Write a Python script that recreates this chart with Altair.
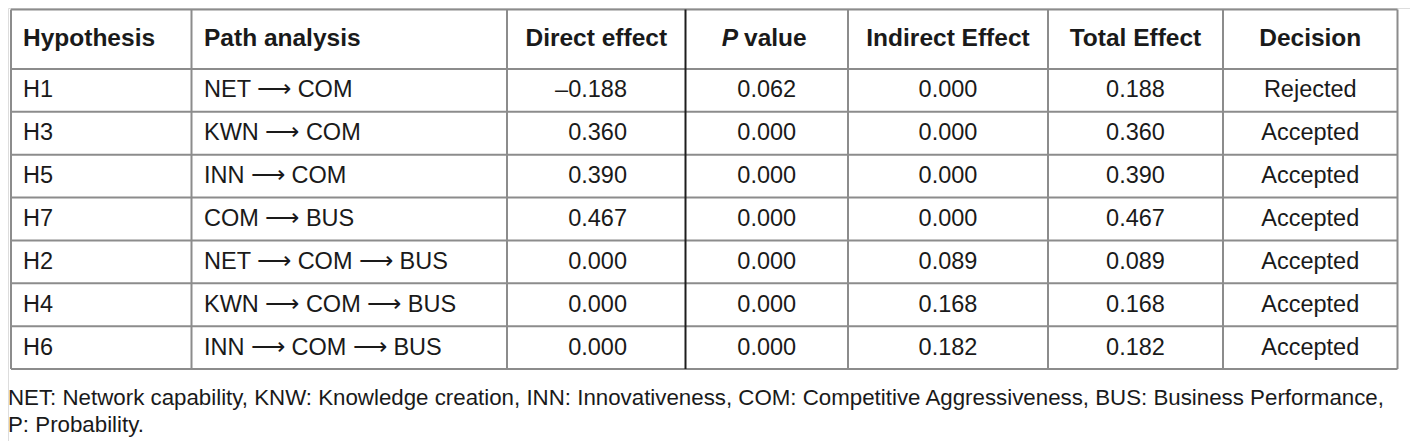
import altair as alt
import pandas as pd

# ---------------- data ----------------
headers = ["Hypothesis", "Path analysis", "Direct effect", "P value",
           "Indirect Effect", "Total Effect", "Decision"]
hypotheses = ["H1", "H3", "H5", "H7", "H2", "H4", "H6"]
paths = ["NET ⟶ COM", "KWN ⟶ COM", "INN ⟶ COM", "COM ⟶ BUS",
         "NET ⟶ COM ⟶ BUS", "KWN ⟶ COM ⟶ BUS", "INN ⟶ COM ⟶ BUS"]
direct_effect = [-0.188, 0.360, 0.390, 0.467, 0.000, 0.000, 0.000]
p_value = [0.062, 0.000, 0.000, 0.000, 0.000, 0.000, 0.000]
indirect_effect = [0.000, 0.000, 0.000, 0.000, 0.089, 0.168, 0.182]
total_effect = [0.188, 0.360, 0.390, 0.467, 0.089, 0.168, 0.182]
decision = ["Rejected", "Accepted", "Accepted", "Accepted",
            "Accepted", "Accepted", "Accepted"]
footnote = [
    "NET: Network capability, KNW: Knowledge creation, INN: Innovativeness, "
    "COM: Competitive Aggressiveness, BUS: Business Performance,",
    "P: Probability.",
]

# ---------------- layout (page coordinates) ----------------
W, H = 1402, 433
X_DOM = [8, 8 + W]
Y_DOM = [8, 8 + H]
col_edges = [11, 191.5, 507, 685.5, 848, 1048, 1223, 1397.5]
top_y = 9.5
head_bottom = 69
row_h = 42.86
n_rows = len(hypotheses)
row_edges = [top_y, head_bottom] + [head_bottom + row_h * (i + 1) for i in range(n_rows)]
FONT = "Liberation Sans"
FS = 23.5
FS_HEAD = 24.5
FS_FOOT = 22.3
TXT = "#1a1a1a"
GRID = "#8c8c8c"
DARK = "#1e1e1e"

x_sc = alt.Scale(domain=X_DOM, range=[0, W], nice=False, zero=False)
y_sc = alt.Scale(domain=Y_DOM, range=[0, H], nice=False, zero=False)
X = lambda f: alt.X(f, type="quantitative", scale=x_sc, axis=None)
Y = lambda f: alt.Y(f, type="quantitative", scale=y_sc, axis=None)


def fmt(v):
    return f"{v:.3f}".replace("-", "–")


centers = [(col_edges[i] + col_edges[i + 1]) / 2 for i in range(7)]
row_mid = [(row_edges[i + 1] + row_edges[i + 2]) / 2 for i in range(n_rows)]
head_mid = (row_edges[0] + row_edges[1]) / 2

left_rows, center_rows, right_rows = [], [], []
for i in range(n_rows):
    y = row_mid[i]
    left_rows.append({"t": hypotheses[i], "x": col_edges[0] + 12, "y": y})
    left_rows.append({"t": paths[i], "x": col_edges[1] + 12.5, "y": y})
    right_rows.append({"t": fmt(direct_effect[i]), "x": 627, "y": y})
    center_rows.append({"t": fmt(p_value[i]), "x": centers[3], "y": y})
    center_rows.append({"t": fmt(indirect_effect[i]), "x": centers[4], "y": y})
    center_rows.append({"t": fmt(total_effect[i]), "x": centers[5], "y": y})
    center_rows.append({"t": decision[i], "x": centers[6], "y": y})

head_left = [{"t": headers[0], "x": col_edges[0] + 12, "y": head_mid},
             {"t": headers[1], "x": col_edges[1] + 12.5, "y": head_mid}]
head_center = [{"t": headers[j], "x": centers[j], "y": head_mid} for j in (2, 4, 5, 6)]
p_parts = headers[3].split(" ", 1)
head_p_italic = [{"t": p_parts[0], "x": 738, "y": head_mid}]
head_p_rest = [{"t": p_parts[1], "x": 744, "y": head_mid}]

hlines = pd.DataFrame({"x": col_edges[0], "x2": col_edges[-1], "y": row_edges})
vgray = [e for k, e in enumerate(col_edges) if k != 3]
vlines = pd.DataFrame({"x": vgray, "y": row_edges[0], "y2": row_edges[-1]})
vdark = pd.DataFrame({"x": [col_edges[3]], "y": [row_edges[0]], "y2": [row_edges[-1]]})

foot = pd.DataFrame({"t": footnote, "x": [8, 8], "y": [405, 432]})


def text_layer(rows, align, size, bold=False, italic=False, baseline="middle"):
    df = pd.DataFrame(rows)
    return alt.Chart(df).mark_text(
        align=align, baseline=baseline, font=FONT, fontSize=size,
        fontWeight="bold" if bold else "normal",
        fontStyle="italic" if italic else "normal", color=TXT,
    ).encode(x=X("x"), y=Y("y"), text="t:N")


h_rule = alt.Chart(hlines).mark_rule(color=GRID, strokeWidth=2).encode(
    x=X("x"), x2="x2", y=Y("y"))
v_rule = alt.Chart(vlines).mark_rule(color=GRID, strokeWidth=2).encode(
    x=X("x"), y=Y("y"), y2="y2")
v_dark = alt.Chart(vdark).mark_rule(color=DARK, strokeWidth=2).encode(
    x=X("x"), y=Y("y"), y2="y2")

foot_layer = alt.Chart(foot).mark_text(
    align="left", baseline="alphabetic", font=FONT, fontSize=FS_FOOT, color=TXT
).encode(x=X("x"), y=Y("y"), text="t:N")

chart = alt.layer(
    h_rule, v_rule, v_dark,
    text_layer(left_rows, "left", FS),
    text_layer(center_rows, "center", FS),
    text_layer(right_rows, "right", FS),
    text_layer(head_left, "left", FS_HEAD, bold=True),
    text_layer(head_center, "center", FS_HEAD, bold=True),
    text_layer(head_p_italic, "right", FS_HEAD, bold=True, italic=True),
    text_layer(head_p_rest, "left", FS_HEAD, bold=True),
    foot_layer,
).properties(
    width=W, height=H, padding=0,
    autosize=alt.AutoSizeParams(type="none"),
).configure_view(stroke=None).configure(background="white")

chart.save("out.html", embed_options={"renderer": "svg", "actions": False})
